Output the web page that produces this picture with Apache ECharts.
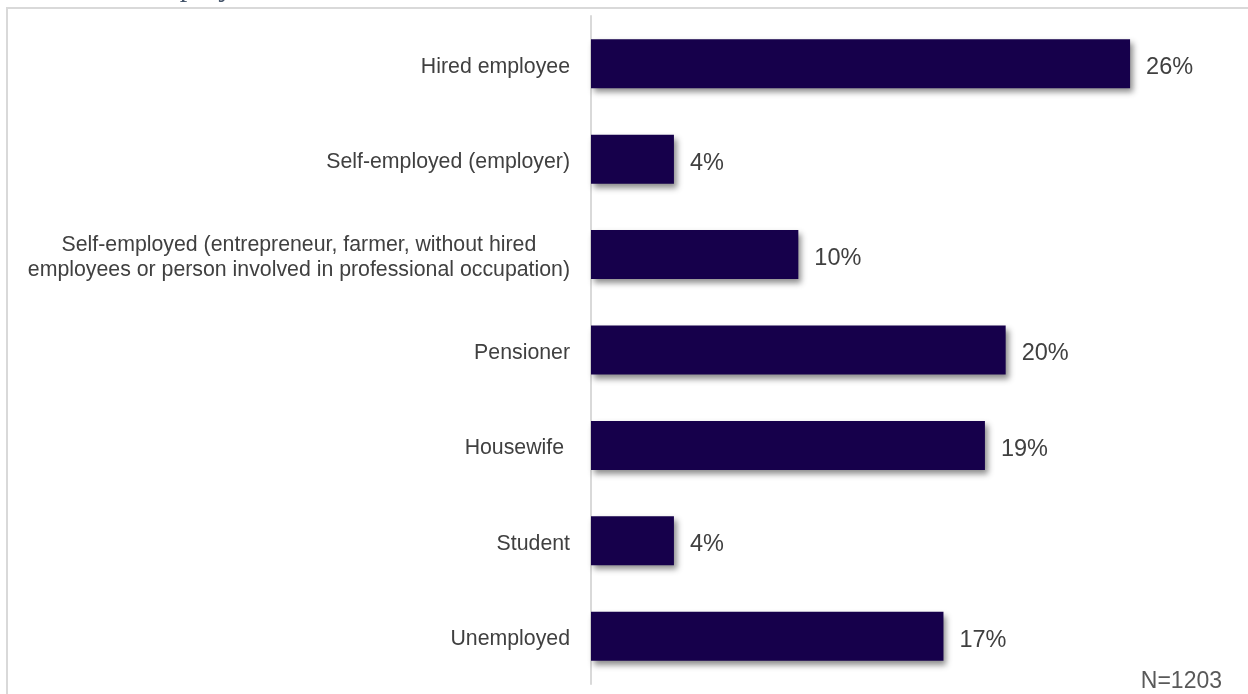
<!DOCTYPE html>
<html>
<head>
<meta charset="utf-8">
<script src="https://cdn.jsdelivr.net/npm/echarts@6/dist/echarts.min.js"></script>
<style>
  html, body { margin: 0; padding: 0; background: #ffffff; }
  #chart { width: 1248px; height: 694px; }
</style>
</head>
<body>
<div id="chart"></div>
<script>
// Current employment status of respondents (share of all, %)
const categories = [
  'Hired employee',
  'Self-employed (employer)',
  'Self-employed (entrepreneur, farmer, without hired\nemployees or person involved in professional occupation)',
  'Pensioner',
  'Housewife ',
  'Student',
  'Unemployed'
];
const shares = [26, 4, 10, 20, 19, 4, 17];
const sampleNote = 'N=1203';
const titleText = 'Current employment';

const chart = echarts.init(document.getElementById('chart'), null, { renderer: 'canvas' });

chart.setOption({
  animation: false,
  backgroundColor: '#ffffff',
  grid: { left: 591, right: 35, top: 16, bottom: 10, containLabel: false },
  xAxis: {
    type: 'value',
    min: 0,
    max: 30,
    show: false,
    splitLine: { show: false }
  },
  yAxis: {
    type: 'category',
    data: categories,
    inverse: true,
    axisLine: { show: true, lineStyle: { color: '#d9d9d9', width: 2 } },
    axisTick: { show: false },
    axisLabel: {
      margin: 21,
      color: '#404040',
      fontFamily: 'Liberation Sans, Arial, sans-serif',
      fontSize: 21,
      lineHeight: 25,
      padding: [6, 0, 0, 0],
      formatter: function (v) {
        return v.split('\n').map(function (line) { return '{c|' + line + '}'; }).join('\n');
      },
      rich: {
        c: {
          align: 'center',
          color: '#404040',
          fontFamily: 'Liberation Sans, Arial, sans-serif',
          fontSize: 21.3,
          lineHeight: 25
        }
      }
    }
  },
  series: [{
    type: 'bar',
    data: shares,
    barWidth: 49,
    itemStyle: {
      color: '#16004b',
      shadowColor: 'rgba(0,0,0,0.45)',
      shadowBlur: 6,
      shadowOffsetX: 3,
      shadowOffsetY: 4
    },
    label: {
      show: true,
      position: 'right',
      distance: 16,
      offset: [0, 4],
      color: '#404040',
      fontFamily: 'Liberation Sans, Arial, sans-serif',
      fontSize: 23.5,
      formatter: function (p) { return p.value + '%'; }
    }
  }],
  graphic: [
    {
      type: 'rect',
      z: -1,
      shape: { x: 7, y: 8, width: 1250, height: 720 },
      style: { fill: 'none', stroke: '#d9d9d9', lineWidth: 2 }
    },
    {
      type: 'text',
      x: 44,
      y: 3,
      style: {
        text: titleText,
        fill: '#44546a',
        font: '30px "Liberation Serif", "Times New Roman", serif',
        verticalAlign: 'bottom',
        align: 'left'
      },
      silent: true
    },
    {
      type: 'text',
      x: 1222,
      y: 682,
      style: {
        text: sampleNote,
        fill: '#595959',
        font: '23px "Liberation Sans", Arial, sans-serif',
        align: 'right',
        verticalAlign: 'middle'
      },
      silent: true
    }
  ]
});
</script>
</body>
</html>
